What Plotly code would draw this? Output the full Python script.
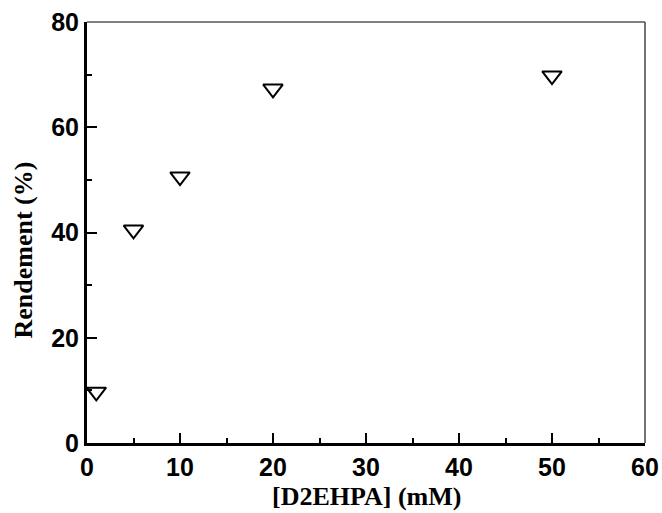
import plotly.graph_objects as go

# Data
d2ehpa_mM = [1, 5, 10, 20, 50]
rendement_pct = [9.7, 40.5, 50.6, 67.3, 69.8]

x_title = "[D2EHPA] (mM)"
y_title = "Rendement (%)"

W, H = 662, 513
L, R, T, B = 87, 17, 22, 70
PW, PH = W - L - R, H - T - B

fig = go.Figure()
fig.add_trace(go.Scatter(
    x=d2ehpa_mM, y=rendement_pct, mode="markers",
    marker=dict(symbol="triangle-down-open", size=17, color="black",
                line=dict(width=2, color="black")),
    showlegend=False, hoverinfo="skip",
))

tickfont = dict(family="Liberation Sans, Arial", size=25, color="black", weight="bold")
axcommon = dict(
    showgrid=False, zeroline=False, showline=True, linewidth=3, linecolor="black",
    ticks="inside", ticklen=10, tickwidth=2, tickcolor="black",
    tickfont=tickfont, automargin=False, ticklabeloverflow="allow",
)

fig.update_xaxes(range=[0, 60], dtick=10, tick0=0,
                 minor=dict(ticks="inside", ticklen=5, tickwidth=2, dtick=5, tickcolor="black"),
                 **axcommon)
fig.update_yaxes(range=[0, 80], dtick=20, tick0=0,
                 minor=dict(ticks="inside", ticklen=5, tickwidth=2, dtick=10, tickcolor="black"),
                 **axcommon)

# thin top and right frame lines
fig.add_shape(type="line", xref="paper", yref="paper", x0=0, x1=1, y0=1, y1=1,
              line=dict(color="black", width=1))
fig.add_shape(type="line", xref="paper", yref="paper", x0=1, x1=1, y0=0, y1=1,
              line=dict(color="#444", width=1.5))

titlefont = dict(family="Liberation Serif, Times New Roman", size=26, color="black", weight="bold")
fig.add_annotation(text=x_title, xref="paper", yref="paper", x=0.5, y=-53 / PH,
                   xanchor="center", yanchor="middle", showarrow=False, font=titlefont,
                   borderpad=0)
fig.add_annotation(text=y_title, xref="paper", yref="paper", x=(22.5 - L) / PW, y=(443 - 250) / PH,
                   xanchor="center", yanchor="middle", textangle=-90, showarrow=False,
                   font=titlefont, borderpad=0)

fig.update_layout(
    width=W, height=H, autosize=False,
    margin=dict(l=L, r=R, t=T, b=B, pad=0),
    paper_bgcolor="white", plot_bgcolor="white",
    hovermode=False,
)

fig.write_html(
    "out.html",
    config={"displayModeBar": False, "staticPlot": True},
    post_script="document.body.style.margin='0';",
)
